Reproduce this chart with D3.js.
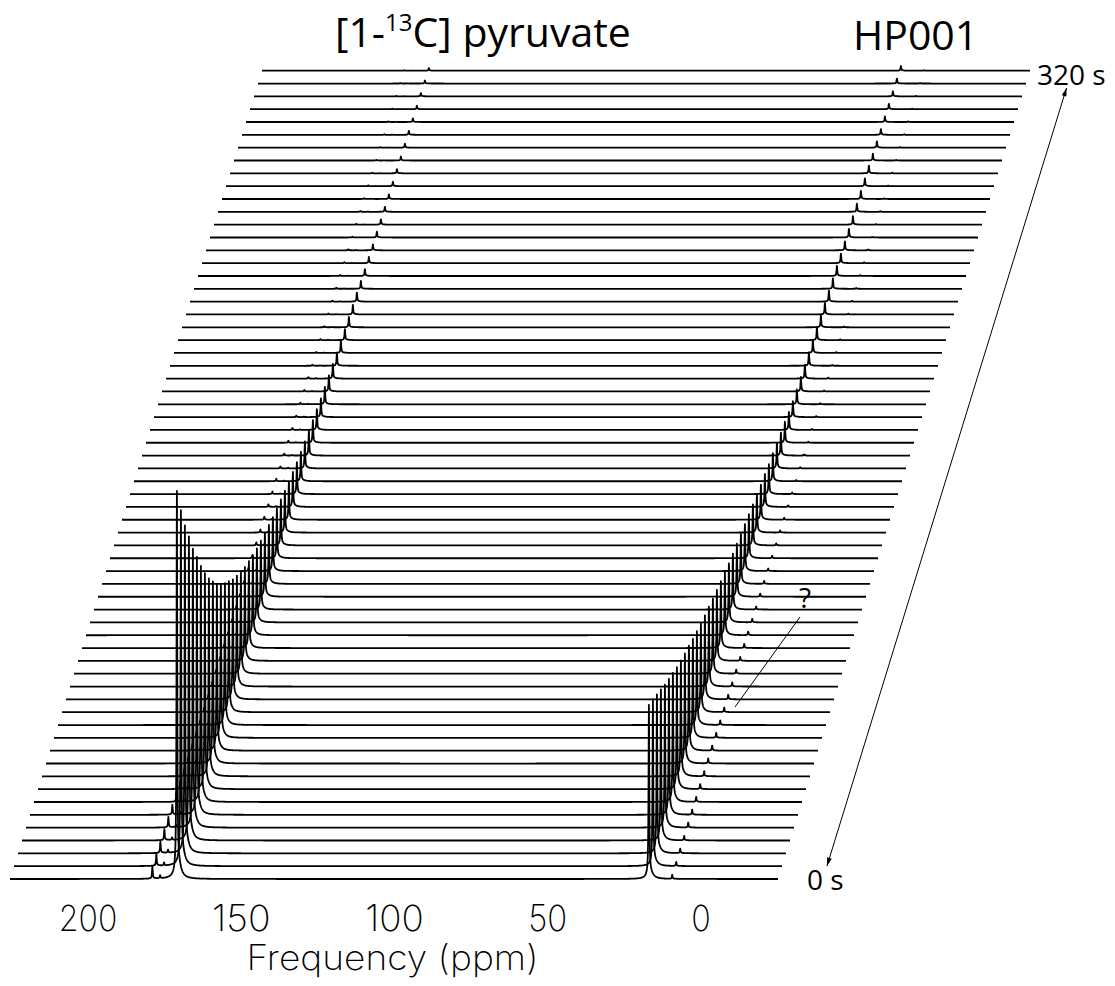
<!DOCTYPE html>
<html>
<head>
<meta charset="utf-8">
<script src="https://cdn.jsdelivr.net/npm/d3@7/dist/d3.min.js"></script>
<style>
  html, body { margin: 0; padding: 0; background: #fff; }
  svg { display: block; }
  .title { font-family: "Open Sans", "Noto Sans", sans-serif; fill: #000; }
  .tick-label, .axis-title { font-family: "Inter", "Roboto", sans-serif; font-weight: 200; fill: #000; }
</style>
</head>
<body>
<svg id="chart" width="1115" height="986"></svg>
<script>
// ---- data -------------------------------------------------------------
// acquisition time of each spectrum (s)
const times = d3.range(0, 320, 5);

// chemical shifts of the resonances (ppm)
const peakNames = ["pyruvate", "hydrate", "alanine", "hp001", "unknown"];
const peakPpm   = [171, 179, 176.5, 17.0, 9.4];

// peak heights per spectrum (a.u.), first acquisition first
const pyruvateHeights = [388, 356, 328, 304, 279, 258, 236, 216, 198, 182,
  167, 154, 142, 131, 120, 111, 102, 94, 87, 80,
  74, 69, 64, 59, 54, 50, 46, 42, 38, 35,
  32, 29.5, 27, 25, 22.5, 20.7, 18.7, 17.5, 16, 14.7,
  13, 12, 11, 10.3, 9.5, 9, 7.8, 6.8, 6.2, 6,
  5.8, 5.3, 5, 4.7, 4.4, 4.2, 4, 4, 4, 3.7,
  3.4, 3.3, 3, 2.7];

const hydrateHeights = [12, 12, 11.5, 11, 10.5, 10, 9, 8, 7, 6.5,
  6, 5.5, 5, 5, 4.5, 4.5, 4, 4, 4, 3.5,
  3.5, 3.5, 3, 3, 3, 3, 3, 3, 3, 2.5,
  2.5, 2.5, 2, 2, 2, 2, 1.5, 1.5, 1.5, 1.5,
  1, 1, 1, 1, 1, 1, 1, 1, 1, 1,
  0.8, 0.8, 0.8, 0.8, 0.8, 0.6, 0.6, 0.6, 0.6, 0.6,
  0.5, 0.5, 0.5, 0.5];

const alanineHeights = [3, 3, 3, 2.5, 2.5, 2.5, 2, 2, 2, 2,
  1.5, 1.5, 1.5, 1.5, 1.5, 1.2, 1.2, 1.2, 1.2, 1.2,
  1, 1, 1, 1, 1, 0.8, 0.8, 0.8, 0.8, 0.8,
  0.6, 0.6, 0.6, 0.6, 0.6, 0.5, 0.5, 0.5, 0.5, 0.5,
  0.4, 0.4, 0.4, 0.4, 0.4, 0.3, 0.3, 0.3, 0.3, 0.3,
  0.2, 0.2, 0.2, 0.2, 0.2, 0.2, 0.2, 0.2, 0.2, 0.2,
  0.2, 0.2, 0.2, 0.2];

const hp001Heights = [174, 167, 159, 151, 143, 136, 129, 122, 116, 110,
  105, 99, 94, 89, 84, 80, 75, 71, 67, 63,
  59, 56, 53, 50, 47, 44, 41, 38, 35, 33,
  30, 28, 25, 23, 21, 18, 16, 15, 14.5, 14,
  13.5, 13, 12.5, 12, 11.5, 11, 10.5, 10, 9.5, 9,
  8.7, 8.5, 8.2, 8, 7.8, 7.6, 6.8, 6.3, 5.8, 5.6,
  5.4, 5.1, 4.9, 4.7];

const unknownHeights = [4, 4, 4.5, 4.5, 5, 5, 5, 5, 5, 5,
  5, 5, 4.5, 4.5, 4.5, 4, 4, 4, 4, 3.5,
  3.5, 3, 3, 3, 2.5, 2.5, 2, 2, 2, 1.5,
  1.5, 1.2, 1.2, 1.2, 1, 1, 1, 1, 1, 1,
  0.8, 0.8, 0.8, 0.8, 0.8, 0.8, 0.8, 0.8, 0.8, 0.8,
  0.6, 0.6, 0.6, 0.6, 0.6, 0.6, 0.6, 0.6, 0.6, 0.6,
  0.5, 0.5, 0.5, 0.5];

const peakHeights = [pyruvateHeights, hydrateHeights, alanineHeights, hp001Heights, unknownHeights];

// frequency axis ticks (ppm)
const tickValues = [200, 150, 100, 50, 0];

// ---- layout -----------------------------------------------------------
const svg = d3.select("#chart");
svg.append("rect").attr("width", 1115).attr("height", 986).attr("fill", "#fff");

const ppmDomain = [225.45, -25.12];
const x = d3.scaleLinear().domain(ppmDomain).range([10, 778]);        // frequency axis of the front trace
const depthX = d3.scaleLinear().domain([0, 315]).range([0, 252]);     // oblique shift per acquisition
const baseY = d3.scaleLinear().domain([0, 315]).range([879, 70.7]);   // baseline height per acquisition
const amp = d3.scaleLinear().domain([0, 400]).range([0, 400]);        // intensity -> pixels

// Lorentzian line shape with a slightly broader, up-field shifted foot
const hw = 0.13, footHw = 1.1, footFrac = 0.04, footShift = -0.45;
const norm = 1 / (1 + footFrac * footHw * footHw / (footHw * footHw + footShift * footShift));
function lineShape(d) {
  const a = hw * hw / (hw * hw + d * d);
  const f = footFrac * footHw * footHw / (footHw * footHw + (d - footShift) * (d - footShift));
  return (a + f) * norm;
}

// sampling grid along the ppm axis, with every peak centre included
const step = 0.08;
let grid = d3.range(ppmDomain[0], ppmDomain[1], -step);
grid.push(ppmDomain[1]);
grid = grid.concat(peakPpm);
grid.sort((a, b) => b - a);

const spectra = times.map((t, i) => ({
  t,
  points: grid.map(p => {
    let v = 0;
    peakPpm.forEach((c, k) => { v += peakHeights[k][i] * lineShape(p - c); });
    return { ppm: p, v };
  })
}));

const g = svg.append("g");
const line = d3.line();

// draw from back to front
spectra.slice().reverse().forEach(s => {
  const dx = depthX(s.t), y0 = baseY(s.t);
  line.x(d => x(d.ppm) + dx).y(d => y0 - amp(d.v));
  g.append("path")
    .attr("d", line(s.points))
    .attr("fill", "none")
    .attr("stroke", "#000")
    .attr("stroke-width", 1.8)
    .attr("stroke-linejoin", "round");
});

// ---- frequency axis labels ----------------------------------------------
svg.selectAll("text.tick-label")
  .data(tickValues)
  .join("text")
  .attr("class", "tick-label")
  .attr("x", d => x(d))
  .attr("y", 931)
  .attr("text-anchor", "middle")
  .attr("font-size", 36)
  .attr("textLength", d => String(d).length * 19.5)
  .attr("lengthAdjust", "spacingAndGlyphs")
  .text(d => d);

svg.append("text")
  .attr("class", "axis-title")
  .attr("x", x(100) - 2)
  .attr("y", 970)
  .attr("text-anchor", "middle")
  .attr("font-size", 35)
  .attr("textLength", 292)
  .attr("lengthAdjust", "spacingAndGlyphs")
  .text("Frequency (ppm)");

// ---- titles ------------------------------------------------------------
const title = svg.append("text")
  .attr("class", "title")
  .attr("x", 335).attr("y", 47)
  .attr("font-size", 41);
title.append("tspan").text("[1-");
title.append("tspan").attr("font-size", 24).attr("dy", -16).text("13");
title.append("tspan").attr("dy", 16).text("C] pyruvate");

svg.append("text")
  .attr("class", "title")
  .attr("x", 853).attr("y", 50)
  .attr("font-size", 41)
  .text("HP001");

// ---- time arrow --------------------------------------------------------
const defs = svg.append("defs");
defs.append("marker")
  .attr("id", "head")
  .attr("viewBox", "0 0 10 6")
  .attr("refX", 10).attr("refY", 3)
  .attr("markerWidth", 9).attr("markerHeight", 5)
  .attr("markerUnits", "userSpaceOnUse")
  .attr("orient", "auto-start-reverse")
  .append("path").attr("d", "M0,0 L10,3 L0,6 Z").attr("fill", "#000");

svg.append("line")
  .attr("x1", 827).attr("y1", 866)
  .attr("x2", 1066.5).attr("y2", 88)
  .attr("stroke", "#000").attr("stroke-width", 1)
  .attr("marker-start", "url(#head)")
  .attr("marker-end", "url(#head)");

svg.append("text").attr("class", "title")
  .attr("x", 1037).attr("y", 85).attr("font-size", 28)
  .text(times[times.length - 1] + 5 + " s");

svg.append("text").attr("class", "title")
  .attr("x", 807).attr("y", 890).attr("font-size", 28)
  .text(times[0] + " s");

// ---- unassigned resonance ----------------------------------------------
svg.append("text").attr("class", "title")
  .attr("x", 805).attr("y", 608).attr("font-size", 28)
  .attr("text-anchor", "middle")
  .text("?");

svg.append("line")
  .attr("x1", 800).attr("y1", 617)
  .attr("x2", 735).attr("y2", 707)
  .attr("stroke", "#000").attr("stroke-width", 1);
</script>
</body>
</html>
